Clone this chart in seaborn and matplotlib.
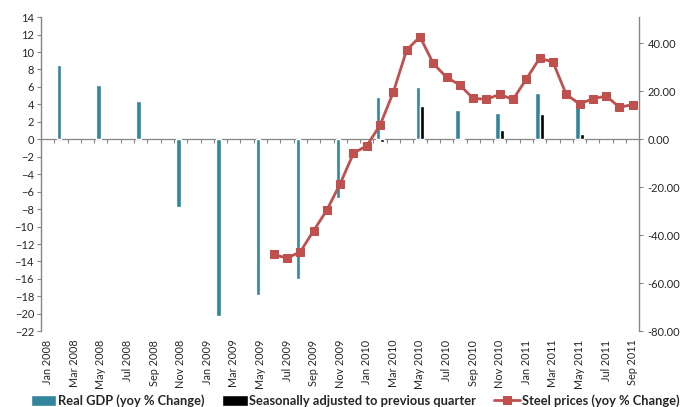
import numpy as np
import pandas as pd
import matplotlib
matplotlib.use("Agg")
import matplotlib.pyplot as plt
import seaborn as sns

# =====================================
# DATA
# =====================================

MONTH_NAMES = ["Jan", "Feb", "Mar", "Apr", "May", "Jun",
               "Jul", "Aug", "Sep", "Oct", "Nov", "Dec"]

months = [f"{m} {y}" for y in range(2008, 2012) for m in MONTH_NAMES][:45]

gdp_months = ["Feb 2008", "May 2008", "Aug 2008", "Nov 2008",
              "Feb 2009", "May 2009", "Aug 2009", "Nov 2009",
              "Feb 2010", "May 2010", "Aug 2010", "Nov 2010",
              "Feb 2011", "May 2011"]

real_gdp = [8.5, 6.2, 4.4, -7.8,
            -20.2, -17.8, -16.0, -6.7,
            4.9, 6.0, 3.4, 3.0,
            5.25, 3.8]

seasonal_adj = [None, None, None, None,
                None, None, None, None,
                -0.3, 3.8, 0.2, 1.05,
                2.95, 0.55]

steel_months = ["Jun 2009", "Jul 2009", "Aug 2009", "Sep 2009", "Oct 2009",
                "Nov 2009", "Dec 2009",
                "Jan 2010", "Feb 2010", "Mar 2010", "Apr 2010", "May 2010",
                "Jun 2010", "Jul 2010", "Aug 2010", "Sep 2010", "Oct 2010",
                "Nov 2010", "Dec 2010",
                "Jan 2011", "Feb 2011", "Mar 2011", "Apr 2011", "May 2011",
                "Jun 2011", "Jul 2011", "Aug 2011", "Sep 2011"]

steel_prices = [-48.0, -49.5, -46.9, -38.1, -29.5, -18.5, -5.8,
                -2.7, 5.9, 19.7, 37.2, 42.7, 31.6, 25.8, 22.6, 17.0, 16.7,
                18.7, 16.6,
                25.1, 33.8, 32.2, 18.7, 14.7, 16.9, 18.0, 13.4, 14.4]

GDP_LABEL = "Real GDP (yoy % Change)"
SA_LABEL = "Seasonally adjusted to previous quarter"
STEEL_LABEL = "Steel prices (yoy % Change)"

TEAL = "#31859C"
RED = "#C0504D"
GREY = "#868686"

# =====================================
# BUILD TABLES
# =====================================

bars = pd.concat([
    pd.DataFrame({"month": gdp_months, "value": real_gdp, "series": GDP_LABEL}),
    pd.DataFrame({"month": gdp_months, "value": seasonal_adj, "series": SA_LABEL}),
]).dropna()

steel = pd.DataFrame({
    "pos": [months.index(m) for m in steel_months],
    "value": steel_prices,
})

# =====================================
# PLOT
# =====================================

sns.set_style("white")
plt.rcParams["font.family"] = ["Lato", "DejaVu Sans"]

fig = plt.figure(figsize=(6.89, 4.07), dpi=100)
ax = fig.add_axes([0.0595, 0.186, 0.8685, 0.772])

sns.barplot(
    data=bars,
    x="month",
    y="value",
    hue="series",
    order=months,
    hue_order=[GDP_LABEL, SA_LABEL],
    palette=[TEAL, "black"],
    width=0.66,
    dodge=True,
    saturation=1,
    ax=ax
)

ax.set_xlim(-0.5, len(months) - 0.5)
ax.set_ylim(-22, 14)
ax.set_yticks(range(-22, 15, 2))
ax.set_xticks(range(0, len(months), 2))
ax.set_xticklabels(months[::2], rotation=90)
ax.set_xlabel("")
ax.set_ylabel("")
ax.tick_params(axis="x", length=0, labelsize=7.8, pad=6)
ax.tick_params(axis="y", length=3, width=0.8, color=GREY,
               direction="out", left=True, labelsize=8, pad=2)

for side in ["top", "right", "bottom"]:
    ax.spines[side].set_visible(False)
ax.spines["left"].set_color(GREY)
ax.spines["left"].set_linewidth(1.0)

# zero line with category tick marks
zero_frac = 22 / 36
sec = ax.secondary_xaxis(zero_frac)
sec.set_alignment("bottom")
sec.set_xticks(np.arange(-0.5, len(months), 1))
sec.tick_params(axis="x", length=3, width=0.8, color=GREY,
                direction="out", labelbottom=False, labeltop=False)
sec.spines["bottom"].set_color(GREY)
sec.spines["bottom"].set_linewidth(0.9)

# steel prices on right axis
ax2 = ax.twinx()

sns.lineplot(
    data=steel,
    x="pos",
    y="value",
    color=RED,
    marker="s",
    markersize=6,
    markeredgecolor=RED,
    linewidth=2,
    label=STEEL_LABEL,
    ax=ax2
)

ax2.set_ylim(-80, 80 * 14 / 22)
ax2.set_yticks(range(-80, 41, 20))
ax2.set_yticklabels([f"{v:.2f}" for v in range(-80, 41, 20)])
ax2.set_ylabel("")
ax2.tick_params(axis="y", length=3, width=0.8, color=GREY,
                direction="out", right=True, labelsize=8, pad=3)
for side in ["top", "left", "bottom"]:
    ax2.spines[side].set_visible(False)
ax2.spines["right"].set_color(GREY)
ax2.spines["right"].set_linewidth(1.0)

# legend
h1, l1 = ax.get_legend_handles_labels()
h2, l2 = ax2.get_legend_handles_labels()
ax.get_legend().remove()
ax2.get_legend().remove()

fig.legend(
    h1 + h2,
    l1 + l2,
    loc="center",
    bbox_to_anchor=(0.515, 0.016),
    ncol=3,
    frameon=False,
    prop={"weight": "bold", "size": 9.3},
    handlelength=2.0,
    handleheight=0.9,
    handletextpad=0.1,
    columnspacing=1.4
)

fig.savefig("out.png", dpi=100)
